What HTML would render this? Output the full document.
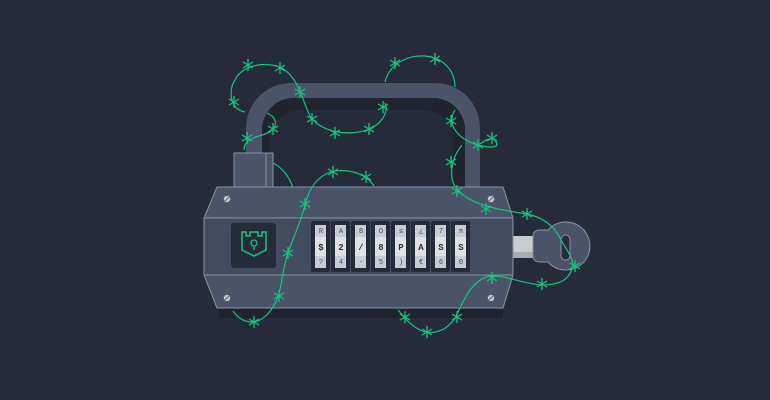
<!DOCTYPE html>
<html><head><meta charset="utf-8"><style>
html,body{margin:0;padding:0;background:#262b3a;}
svg{display:block}
text{font-family:"Liberation Mono","DejaVu Sans Mono",monospace;font-size:7px;fill:#444b58;text-anchor:middle}
.b{font-weight:bold;font-size:9px;fill:#2a2f3a}
</style></head><body>
<svg width="770" height="400" viewBox="0 0 770 400" xmlns="http://www.w3.org/2000/svg">
<defs>
<g id="s" stroke="#19c37d" stroke-width="1.3" fill="none"><path d="M-5,-3 L5,3 M-5,3 L5,-3 M0,-6 L0,6"/></g>
</defs>
<rect width="770" height="400" fill="#262b3a"/>
<!-- shackle -->
<path d="M246,170 V128 A45,45 0 0 1 291,83 H435 A45,45 0 0 1 480,128 V190 H465 V130 A32,32 0 0 0 433,98 H294 A32,32 0 0 0 262,130 V170 Z" fill="#4a5468"/>
<path d="M262,130 A32,32 0 0 1 294,98 H433 A32,32 0 0 1 465,130 V190 H453 V140 A30,30 0 0 0 423,110 H300 A30,30 0 0 0 270,140 V160 H262Z" fill="#20242f"/>
<!-- block -->
<rect x="234" y="153" width="39" height="36" fill="#4a5468" stroke="#8a93a5" stroke-width="1"/>
<line x1="266" y1="153" x2="266" y2="189" stroke="#8a93a5" stroke-width="1"/>
<!-- key -->
<rect x="513" y="236" width="22" height="22" fill="#c8cbd0"/>
<rect x="513" y="252" width="22" height="6" fill="#a8acb4"/>
<path d="M540,230 L548,230 A24,24 0 1 1 548,262 L540,262 Q533,262 533,255 V237 Q533,230 540,230Z" fill="#4a5468" stroke="#8a93a5" stroke-width="1"/>
<rect x="561" y="235" width="9" height="25" rx="4.5" fill="#262b3a" stroke="#8a93a5" stroke-width="1"/>
<!-- body shadow -->
<path d="M217,308 H503 V318 H220Z" fill="#1f2330"/>
<!-- body -->
<path d="M217,187 H503 L513,218 V275 L503,308 H217 L204,275 V218Z" fill="#4a5468" stroke="#8a93a5" stroke-width="1"/>
<rect x="205" y="218" width="307" height="57" fill="#434c5f"/>
<line x1="205" y1="218" x2="512" y2="218" stroke="#8a93a5" stroke-width="1"/>
<line x1="205" y1="275" x2="512" y2="275" stroke="#8a93a5" stroke-width="1"/>
<!-- screws -->
<g fill="#c8cbd0" stroke="#5a6275" stroke-width="0.8">
<circle cx="227" cy="199" r="3.5"/><circle cx="491" cy="199" r="3.5"/><circle cx="227" cy="298" r="3.5"/><circle cx="491" cy="298" r="3.5"/></g>
<g stroke="#5a6275" stroke-width="1"><path d="M225,201 L229,197 M489,201 L493,197 M225,300 L229,296 M489,300 L493,296"/></g>
<!-- shield box -->
<rect x="231" y="223" width="45" height="45" rx="3" fill="#262b3a"/>
<path d="M242,232 V250 L254,256 L266,250 V232 H262 V236 H258 V232 H250 V236 H246 V232Z" fill="none" stroke="#19c37d" stroke-width="1.5"/>
<circle cx="254" cy="243" r="3" fill="none" stroke="#19c37d" stroke-width="1.3"/><line x1="254" y1="246" x2="254" y2="250" stroke="#19c37d" stroke-width="1.3"/>
<!-- dials -->
<g>
<rect x="311" y="221" width="19" height="51" rx="2" fill="#262b3a"/><rect x="331" y="221" width="19" height="51" rx="2" fill="#262b3a"/><rect x="351" y="221" width="19" height="51" rx="2" fill="#262b3a"/><rect x="371" y="221" width="19" height="51" rx="2" fill="#262b3a"/><rect x="391" y="221" width="19" height="51" rx="2" fill="#262b3a"/><rect x="411" y="221" width="19" height="51" rx="2" fill="#262b3a"/><rect x="431" y="221" width="19" height="51" rx="2" fill="#262b3a"/><rect x="451" y="221" width="19" height="51" rx="2" fill="#262b3a"/>
</g>
<g fill="#c9ccd2">
<rect x="315" y="225" width="11" height="43"/><rect x="335" y="225" width="11" height="43"/><rect x="355" y="225" width="11" height="43"/><rect x="375" y="225" width="11" height="43"/><rect x="395" y="225" width="11" height="43"/><rect x="415" y="225" width="11" height="43"/><rect x="435" y="225" width="11" height="43"/><rect x="455" y="225" width="11" height="43"/>
</g>
<g fill="#dfe1e5"><rect x="315" y="237" width="11" height="19"/><rect x="335" y="237" width="11" height="19"/><rect x="355" y="237" width="11" height="19"/><rect x="375" y="237" width="11" height="19"/><rect x="395" y="237" width="11" height="19"/><rect x="415" y="237" width="11" height="19"/><rect x="435" y="237" width="11" height="19"/><rect x="455" y="237" width="11" height="19"/></g>
<text x="321" y="233">R</text><text x="341" y="233">A</text><text x="361" y="233">8</text><text x="381" y="233">O</text><text x="401" y="233">≤</text><text x="421" y="233">¿</text><text x="441" y="233">7</text><text x="461" y="233">π</text>
<text class="b" x="321" y="250">$</text><text class="b" x="341" y="250">2</text><text class="b" x="361" y="250">/</text><text class="b" x="381" y="250">8</text><text class="b" x="401" y="250">P</text><text class="b" x="421" y="250">A</text><text class="b" x="441" y="250">S</text><text class="b" x="461" y="250">S</text>
<text x="321" y="264">?</text><text x="341" y="264">4</text><text x="361" y="264">-</text><text x="381" y="264">5</text><text x="401" y="264">)</text><text x="421" y="264">€</text><text x="441" y="264">6</text><text x="461" y="264">Θ</text>
<!-- wires -->
<g stroke="#19c37d" stroke-width="1.2" fill="none">
<path d="M245,112 C230,110 228,90 235,80 C242,64 270,60 285,70 C300,82 302,100 310,116 C320,132 350,138 372,128 C385,120 388,110 385,103"/>
<path d="M244,150 C244,142 250,138 262,135 C275,132 282,120 267,113"/>
<path d="M385,82 C390,62 410,55 425,56 C445,58 455,72 455,87"/>
<path d="M455,110 C445,125 460,140 478,145 C490,148 500,148 496,142 C493,136 485,140 482,143"/>
<path d="M462,145 C450,160 448,180 458,190 C470,205 500,210 527,214 C545,218 555,228 560,238 C565,248 572,255 573,265 C570,280 560,285 541,285 C520,283 505,275 490,276 C470,280 462,305 455,318 C445,333 430,335 420,330 C410,325 405,318 398,310"/>
<path d="M273,163 C283,168 290,178 293,188"/>
<path d="M374,186 C365,172 345,168 330,172 C315,178 308,192 305,205 C300,225 292,240 288,253 C282,272 282,285 278,297 C272,312 262,322 252,322 C244,322 238,318 233,311"/>
</g>
<g>
<use href="#s" x="234" y="102"/><use href="#s" x="248" y="65"/><use href="#s" x="280" y="68"/><use href="#s" x="300" y="92"/><use href="#s" x="312" y="119"/><use href="#s" x="335" y="133"/><use href="#s" x="369" y="129"/><use href="#s" x="383" y="107"/>
<use href="#s" x="247" y="138"/><use href="#s" x="273" y="129"/>
<use href="#s" x="395" y="63"/><use href="#s" x="435" y="59"/>
<use href="#s" x="451" y="121"/><use href="#s" x="478" y="145"/><use href="#s" x="492" y="138"/>
<use href="#s" x="451" y="162"/><use href="#s" x="457" y="191"/><use href="#s" x="486" y="209"/><use href="#s" x="527" y="214"/>
<use href="#s" x="575" y="266"/><use href="#s" x="542" y="284"/><use href="#s" x="492" y="278"/>
<use href="#s" x="457" y="317"/><use href="#s" x="427" y="332"/><use href="#s" x="405" y="317"/>
<use href="#s" x="333" y="172"/><use href="#s" x="366" y="177"/><use href="#s" x="305" y="204"/><use href="#s" x="288" y="253"/><use href="#s" x="279" y="296"/><use href="#s" x="254" y="322"/>
</g>
</svg>
</body></html>
